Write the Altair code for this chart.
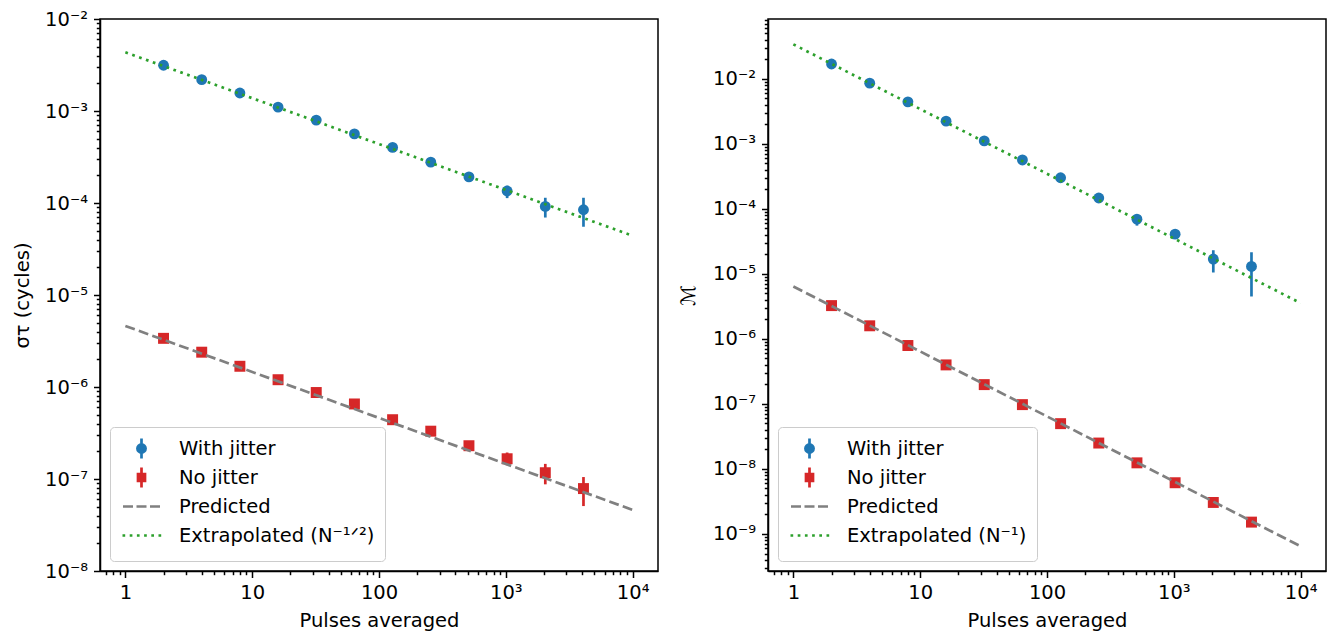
import altair as alt
import pandas as pd

# ---------------- data ----------------
N = [2, 4, 8, 16, 32, 64, 128, 256, 512, 1024, 2048, 4096]

# Left panel: sigma_tau (cycles)
left_jit = [3.14e-3, 2.19e-3, 1.57e-3, 1.10e-3, 7.96e-4, 5.64e-4, 4.02e-4, 2.78e-4, 1.92e-4, 1.35e-4, 9.18e-5, 8.45e-5]
left_jit_lo = [3.08e-3, 2.14e-3, 1.53e-3, 1.07e-3, 7.70e-4, 5.43e-4, 3.83e-4, 2.63e-4, 1.80e-4, 1.13e-4, 6.95e-5, 5.52e-5]
left_jit_hi = [3.20e-3, 2.24e-3, 1.61e-3, 1.13e-3, 8.22e-4, 5.85e-4, 4.21e-4, 2.93e-4, 2.04e-4, 1.54e-4, 1.14e-4, 1.14e-4]
left_nojit = [3.38e-6, 2.39e-6, 1.68e-6, 1.20e-6, 8.71e-7, 6.54e-7, 4.41e-7, 3.31e-7, 2.30e-7, 1.66e-7, 1.17e-7, 7.87e-8]
left_nojit_lo = [3.31e-6, 2.33e-6, 1.64e-6, 1.16e-6, 8.40e-7, 6.28e-7, 4.20e-7, 3.13e-7, 2.14e-7, 1.41e-7, 8.75e-8, 5.08e-8]
left_nojit_hi = [3.45e-6, 2.45e-6, 1.72e-6, 1.24e-6, 9.02e-7, 6.80e-7, 4.62e-7, 3.49e-7, 2.46e-7, 1.94e-7, 1.46e-7, 1.05e-7]

# Right panel: M
right_jit = [1.69e-2, 8.58e-3, 4.42e-3, 2.23e-3, 1.11e-3, 5.65e-4, 3.01e-4, 1.47e-4, 6.95e-5, 4.08e-5, 1.69e-5, 1.30e-5]
right_jit_lo = [1.64e-2, 8.30e-3, 4.25e-3, 2.13e-3, 1.05e-3, 5.30e-4, 2.80e-4, 1.35e-4, 5.52e-5, 3.55e-5, 1.05e-5, 4.49e-6]
right_jit_hi = [1.74e-2, 8.86e-3, 4.59e-3, 2.33e-3, 1.17e-3, 6.00e-4, 3.22e-4, 1.59e-4, 8.00e-5, 4.58e-5, 2.31e-5, 2.15e-5]
right_nojit = [3.25e-6, 1.59e-6, 7.91e-7, 3.98e-7, 1.98e-7, 9.75e-8, 4.97e-8, 2.50e-8, 1.24e-8, 6.13e-9, 3.05e-9, 1.52e-9]
right_nojit_lo = [3.18e-6, 1.55e-6, 7.72e-7, 3.88e-7, 1.93e-7, 9.48e-8, 4.82e-8, 2.42e-8, 1.20e-8, 5.92e-9, 2.94e-9, 1.46e-9]
right_nojit_hi = [3.32e-6, 1.63e-6, 8.10e-7, 4.08e-7, 2.03e-7, 1.00e-7, 5.12e-8, 2.58e-8, 1.28e-8, 6.34e-9, 3.16e-9, 1.58e-9]

line_x = [1, 10000]
left_pred = [4.61e-6, 4.61e-8]
left_extr = [4.35e-3, 4.40e-5]
right_pred = [6.40e-6, 6.45e-10]
right_extr = [3.39e-2, 3.55e-6]

left_labels = ["With jitter", "No jitter", "Predicted", "Extrapolated (N\u207b\u00b9\u141f\u00b2)"]
right_labels = ["With jitter", "No jitter", "Predicted", "Extrapolated (N\u207b\u00b9)"]

x_major = [1, 10, 100, 1000, 10000]
x_major_labels = ["1", "10", "100", "10\u00b3", "10\u2074"]
left_y_exp = [-8, -7, -6, -5, -4, -3, -2]
right_y_exp = [-9, -8, -7, -6, -5, -4, -3, -2]
SUP = {"-": "\u207b", "0": "\u2070", "1": "\u00b9", "2": "\u00b2", "3": "\u00b3", "4": "\u2074",
       "5": "\u2075", "6": "\u2076", "7": "\u2077", "8": "\u2078", "9": "\u2079"}

# ---------------- styling ----------------
BLUE, RED, GRAY, GREEN = "#1f77b4", "#d62728", "#808080", "#2ca02c"
FONT = "DejaVu Sans"
FS = 19.5
LW = 2.7
W, H = 558, 552

X_DOMAIN = [10 ** -0.2, 10 ** 4.2]
LEFT_Y_DOMAIN = [1e-8, 1e-2]
RIGHT_Y_DOMAIN = [10 ** -9.57, 10 ** -1.08]


def minor_ticks(lo, hi, e0, e1):
    out = []
    for e in range(e0, e1 + 1):
        for m in range(1, 10):
            v = float(f"{m}e{e}")
            if lo <= v <= hi:
                out.append(v)
    return out


def log_axis(majors, labels, lo, hi, e0, e1, title, **kw):
    vals = minor_ticks(lo, hi, e0, e1)
    arr = "[" + ",".join(repr(float(v)) for v in majors) + "]"
    expr = ""
    for v, l in zip(majors, labels):
        expr += f"datum.value == {float(v)!r} ? '{l}' : "
    expr += "''"
    test = f"indexof({arr}, datum.value) >= 0"
    return alt.Axis(
        values=vals, labelExpr=expr, title=title, labelOverlap=False, labelFlush=False,
        tickSize={"condition": {"test": test, "value": 6.5}, "value": 3.7},
        grid=False, **kw)


def sup(e):
    return "10" + "".join(SUP[c] for c in str(e))


x_axis = log_axis(x_major, x_major_labels, X_DOMAIN[0], X_DOMAIN[1], -1, 4, "Pulses averaged",
                  titlePadding=9)
x_scale = alt.Scale(type="log", domain=X_DOMAIN, nice=False)


def circle_path(cx, r):
    k = 0.5523 * r
    return (f"M{cx + r},0 C{cx + r},{k} {cx + k},{r} {cx},{r} "
            f"C{cx - k},{r} {cx - r},{k} {cx - r},0 "
            f"C{cx - r},{-k} {cx - k},{-r} {cx},{-r} "
            f"C{cx + k},{-r} {cx + r},{-k} {cx + r},0 Z M{cx},-1 V1")


# all legend glyphs share the same vertical extent (-1..1) so that rows are equal
EXT = " M1,-1 M1,1"
LEG_PATHS = [
    circle_path(1, 0.41),
    "M0.65,-0.35 H1.35 V0.35 H0.65 Z M1,-1 V1",
    "M-0.85,0 H0.15 M0.5,0 H1.5 M1.85,0 H2.85" + EXT,
    "M-0.9,0 H-0.63 M-0.18,0 H0.09 M0.54,0 H0.81 M1.26,0 H1.53 M1.98,0 H2.25 M2.7,0 H2.97" + EXT,
]
LEG_COLORS = [BLUE, RED, GRAY, GREEN]


def panel(jit, jlo, jhi, nj, nlo, nhi, pred, extr, ydom, yexp, ytitle, labels, ytitle_pad):
    y_axis = log_axis([float(f"1e{e}") for e in yexp], [sup(e) for e in yexp],
                      ydom[0], ydom[1], yexp[0] - 1, yexp[-1], ytitle, titlePadding=ytitle_pad)
    y_scale = alt.Scale(type="log", domain=ydom, nice=False)
    X = alt.X("x:Q", scale=x_scale, axis=x_axis)
    Y = alt.Y("y:Q", scale=y_scale, axis=y_axis)

    dj = pd.DataFrame({"x": N, "y": jit, "lo": jlo, "hi": jhi})
    dn = pd.DataFrame({"x": N, "y": nj, "lo": nlo, "hi": nhi})
    dp = pd.DataFrame({"x": line_x, "y": pred})
    de = pd.DataFrame({"x": line_x, "y": extr})

    def err(df, color):
        return alt.Chart(df).mark_rule(color=color, strokeWidth=LW).encode(
            x=X, y=alt.Y("lo:Q", scale=y_scale, axis=y_axis), y2="hi:Q")

    pts_j = alt.Chart(dj).mark_circle(color=BLUE, size=118, opacity=1).encode(x=X, y=Y)
    pts_n = alt.Chart(dn).mark_square(color=RED, size=120, opacity=1).encode(x=X, y=Y)
    l_pred = alt.Chart(dp).mark_line(color=GRAY, strokeWidth=LW, strokeDash=[10, 4.3]).encode(x=X, y=Y)
    l_extr = alt.Chart(de).mark_line(color=GREEN, strokeWidth=LW, strokeDash=[2.7, 4.6]).encode(x=X, y=Y)

    leg = alt.Legend(title=None, orient="bottom-left", offset=10, direction="vertical",
                     padding=10, rowPadding=-2, labelFont=FONT, labelFontSize=FS, labelColor="black",
                     strokeColor="#cccccc", fillColor="white", cornerRadius=4,
                     symbolSize=400, symbolStrokeWidth=LW, labelOffset=36, labelLimit=400)
    dleg = pd.DataFrame({"s": labels})
    dummy = alt.Chart(dleg).mark_point(filled=True, opacity=1).encode(
        color=alt.Color("s:N", scale=alt.Scale(domain=labels, range=LEG_COLORS), legend=leg),
        stroke=alt.Stroke("s:N", scale=alt.Scale(domain=labels, range=LEG_COLORS), legend=leg),
        shape=alt.Shape("s:N", scale=alt.Scale(domain=labels, range=LEG_PATHS), legend=leg),
    ).transform_filter("false")

    return alt.layer(err(dj, BLUE), pts_j, err(dn, RED), pts_n, l_pred, l_extr, dummy).properties(
        width=W, height=H)


left = panel(left_jit, left_jit_lo, left_jit_hi, left_nojit, left_nojit_lo, left_nojit_hi,
             left_pred, left_extr, LEFT_Y_DOMAIN, left_y_exp, "\u03c3\u03c4 (cycles)", left_labels, 12)
right = panel(right_jit, right_jit_lo, right_jit_hi, right_nojit, right_nojit_lo, right_nojit_hi,
              right_pred, right_extr, RIGHT_Y_DOMAIN, right_y_exp, "\u2133", right_labels, 14)

chart = alt.hconcat(left, right, spacing=18).resolve_scale(
    color="independent", stroke="independent", shape="independent"
).properties(
    padding={"left": 3, "top": 0, "right": 5, "bottom": 0}
).configure_view(
    stroke="black", strokeWidth=1.5
).configure_axis(
    labelFont=FONT, labelFontSize=FS, labelColor="black", labelPadding=6,
    titleFont=FONT, titleFontSize=FS, titleFontWeight="normal", titleColor="black",
    domainColor="black", domainWidth=1.5, tickColor="black", tickWidth=1.5,
)

chart.save("out.html", embed_options={"renderer": "svg", "actions": False})
